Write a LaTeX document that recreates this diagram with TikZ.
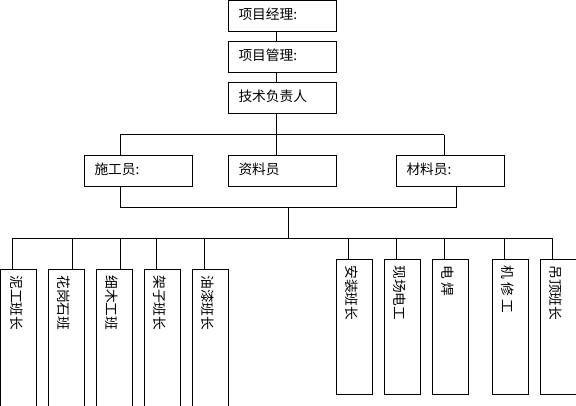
\documentclass[tikz,border=0pt]{standalone}
\usepackage{fontspec}
\setmainfont{Noto Sans CJK SC}
\usetikzlibrary{calc}
\begin{document}
\begin{tikzpicture}[x=0.75pt,y=-0.75pt,line width=0.75pt,
  hbox/.style={draw,rectangle,anchor=north west,minimum width=108*0.75pt,minimum height=31*0.75pt,inner sep=0,outer sep=0},
  vbox/.style={draw,rectangle,anchor=north west,minimum width=36*0.75pt,inner sep=0,outer sep=0},
  htext/.style={anchor=west,inner sep=0,font=\fontsize{10.3}{12}\selectfont},
  vtext/.style={anchor=west,rotate=-90,inner sep=0,font=\fontsize{10.3}{12}\selectfont}]
\useasboundingbox (0,0) rectangle (576,406);
\clip (0,0) rectangle (576,406);
% top boxes
\node[hbox] (pm) at (228,0.5) {};
\node[htext] (pmt) at ($(pm.west)+(10,-2)$) {项目经理:};
\node[hbox] (pg) at (228,42) {};
\node[htext] (pgt) at ($(pg.west)+(10,-2)$) {项目管理:};
\node[hbox] (tech) at (228,83) {};
\node[htext] (techt) at ($(tech.west)+(10,-2)$) {技术负责人};
\node[hbox] (sg) at (84,156) {};
\node[htext] (sgt) at ($(sg.west)+(10,-2)$) {施工员:};
\node[hbox] (zl) at (228,156) {};
\node[htext] (zlt) at ($(zl.west)+(10,-2)$) {资料员};
\node[hbox] (cl) at (396,156) {};
\node[htext] (clt) at ($(cl.west)+(10,-2)$) {材料员:};
% connectors
\draw ($(pm.south west)+(48,0)$) -- ($(pg.north west)+(48,0)$);
\draw ($(pg.south west)+(48,0)$) -- ($(tech.north west)+(48,0)$);
\coordinate (b1l) at (120,135);
\coordinate (b1r) at (444,135);
\draw (b1l) -- (b1r);
\draw ($(tech.south west)+(48,0)$) -- ($(zl.north west)+(48,0)$);
\draw (b1l) -- ($(sg.north west)+(36,0)$);
\draw (b1r) -- ($(cl.north west)+(48,0)$);
\coordinate (b2l) at (120,208);
\coordinate (b2r) at (456,208);
\coordinate (b2m) at (288,208);
\draw ($(sg.south west)+(36,0)$) -- (b2l) -- (b2r) -- ($(cl.south west)+(60,0)$);
\coordinate (b3l) at (12,239);
\coordinate (b3r) at (553,239);
\coordinate (b3m) at (288,239);
\draw (b2m) -- (b3m);
\draw (b3l) -- (b3r);
% bottom boxes
\foreach \nm/\x/\c/\t in {v1/0.5/12/泥工班长, v2/48/24/花岗石班, v3/96/24/细木工班, v4/144/12/架子班长, v5/192/12/油漆班长} {
  \node[vbox,minimum height=150*0.75pt] (\nm) at (\x,270) {};
  \node[vtext] (\nm t) at ($(\nm.north west)+(16,5)$) {\t};
  \draw ($(\nm.north west)+(\c,0)$) coordinate (tmp) -- (tmp |- b3l);
}
\foreach \nm/\x/\w/\t in {v6/336/36/安装班长, v7/384/36/现场电工, v8/432/36/电 焊, v9/492/36/机 修 工, v10/540/50/吊顶班长} {
  \node[vbox,minimum height=135*0.75pt,minimum width=\w*0.75pt] (\nm) at (\x,260) {};
  \node[vtext] (\nm t) at ($(\nm.north west)+(16,5)$) {\t};
  \draw ($(\nm.north west)+(12,0)$) coordinate (tmp) -- (tmp |- b3l);
}
\end{tikzpicture}
\end{document}
